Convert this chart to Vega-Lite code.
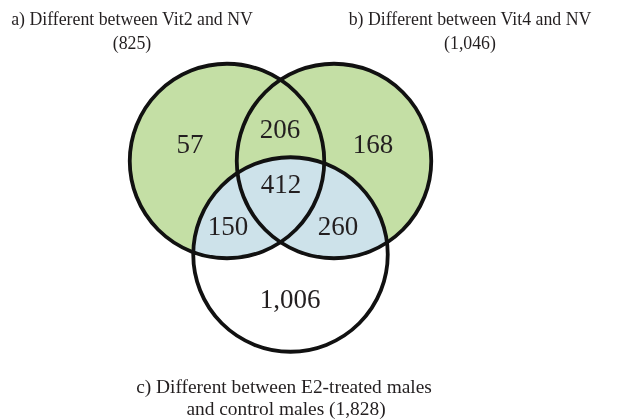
{
  "$schema": "https://vega.github.io/schema/vega-lite/v6.json",
  "width": 629,
  "height": 419,
  "autosize": {"type": "fit", "contains": "padding"},
  "padding": 0,
  "background": "white",
  "config": {"view": {"stroke": null}},
  "datasets": {
    "circles": [
      {"set": "a", "cx": 227, "cy": 161},
      {"set": "b", "cx": 334, "cy": 161},
      {"set": "c", "cx": 290.5, "cy": 254.5}
    ],
    "counts": [
      {"region": "a only", "count": "57", "px": 190, "py": 145},
      {"region": "a and b", "count": "206", "px": 280, "py": 130},
      {"region": "b only", "count": "168", "px": 373, "py": 145},
      {"region": "a, b and c", "count": "412", "px": 281, "py": 185},
      {"region": "a and c", "count": "150", "px": 228, "py": 227},
      {"region": "b and c", "count": "260", "px": 338, "py": 227},
      {"region": "c only", "count": "1,006", "px": 290, "py": 300}
    ],
    "titles": [
      {"set": "a", "line": "a) Different between Vit2 and NV", "tx": 132, "ty": 20},
      {"set": "a", "line": "(825)", "tx": 132, "ty": 44},
      {"set": "b", "line": "b) Different between Vit4 and NV", "tx": 470, "ty": 20},
      {"set": "b", "line": "(1,046)", "tx": 470, "ty": 44},
      {"set": "c", "line": "c) Different between E2-treated males", "tx": 284, "ty": 387},
      {"set": "c", "line": "and control males (1,828)", "tx": 286, "ty": 409}
    ]
  },
  "layer": [
    {
      "data": {"name": "circles"},
      "transform": [{"filter": "datum.set !== 'c'"}],
      "mark": {"type": "point", "shape": "circle", "filled": true, "fill": "#c4dfa5", "opacity": 1, "strokeWidth": 0},
      "encoding": {
        "x": {"field": "cx", "type": "quantitative", "scale": {"domain": [0, 629], "nice": false, "zero": false}, "axis": null},
        "y": {"field": "cy", "type": "quantitative", "scale": {"domain": [0, 419], "nice": false, "zero": false, "reverse": true}, "axis": null},
        "size": {"value": 37636}
      }
    },
    {
      "data": {"name": "circles"},
      "transform": [{"filter": "datum.set === 'c'"}],
      "mark": {"type": "point", "shape": "circle", "filled": true, "fill": "#cde2ea", "opacity": 1, "strokeWidth": 0, "blend": "lighten"},
      "encoding": {
        "x": {"field": "cx", "type": "quantitative"},
        "y": {"field": "cy", "type": "quantitative"},
        "size": {"value": 38025}
      }
    },
    {
      "data": {"name": "circles"},
      "mark": {"type": "point", "shape": "circle", "filled": false, "stroke": "#111111", "strokeWidth": 3.8, "opacity": 1},
      "encoding": {
        "x": {"field": "cx", "type": "quantitative"},
        "y": {"field": "cy", "type": "quantitative"},
        "size": {"value": 37830}
      }
    },
    {
      "data": {"name": "counts"},
      "mark": {"type": "text", "font": "Liberation Serif", "fontSize": 27, "color": "#231f20", "align": "center", "baseline": "middle"},
      "encoding": {
        "x": {"field": "px", "type": "quantitative"},
        "y": {"field": "py", "type": "quantitative"},
        "text": {"field": "count"}
      }
    },
    {
      "data": {"name": "titles"},
      "transform": [{"filter": "datum.set !== 'c'"}],
      "mark": {"type": "text", "font": "Liberation Serif", "fontSize": 17.8, "color": "#231f20", "align": "center", "baseline": "middle"},
      "encoding": {
        "x": {"field": "tx", "type": "quantitative"},
        "y": {"field": "ty", "type": "quantitative"},
        "text": {"field": "line"}
      }
    },
    {
      "data": {"name": "titles"},
      "transform": [{"filter": "datum.set === 'c'"}],
      "mark": {"type": "text", "font": "Liberation Serif", "fontSize": 19.4, "color": "#231f20", "align": "center", "baseline": "middle"},
      "encoding": {
        "x": {"field": "tx", "type": "quantitative"},
        "y": {"field": "ty", "type": "quantitative"},
        "text": {"field": "line"}
      }
    }
  ]
}
